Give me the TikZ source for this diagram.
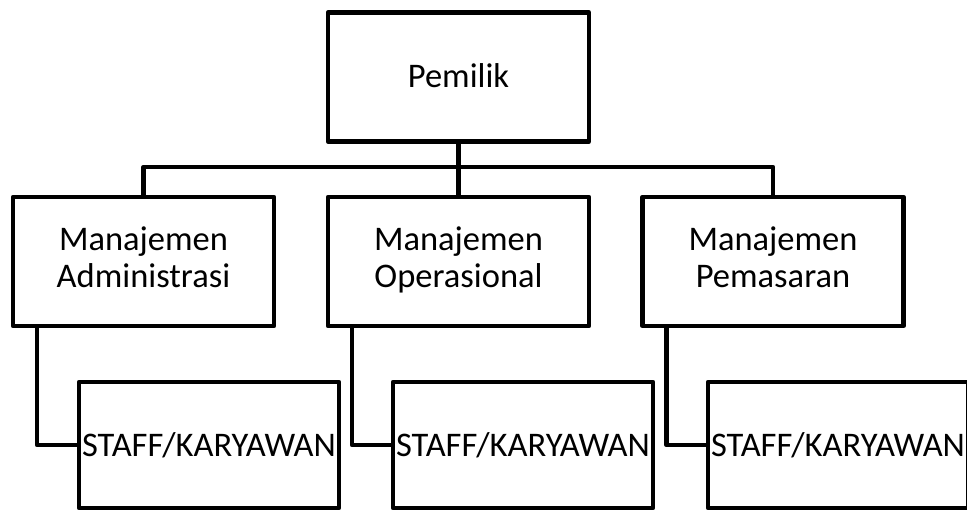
\documentclass[tikz,border=0pt]{standalone}
\usepackage{fontspec}
\setmainfont{Carlito}

\newcommand\boxstrut{\rule[-8pt]{0pt}{38pt}}

\begin{document}
\begin{tikzpicture}[x=1pt,y=-1pt,line width=4.3pt,line join=round]

      \useasboundingbox (0,0) rectangle (967,511);

      \begin{scope}[every node/.style={draw,rectangle,inner sep=0pt,align=center,
          minimum width=261pt,minimum height=129pt,font=\fontsize{34.5}{37}\selectfont,
          execute at begin node=\rule{0pt}{30pt},execute at end node=\boxstrut}]
        \node (pemilik) at (458.5,77)  {Pemilik};
        \node (adm)     at (143.5,261.5) {Manajemen\\Administrasi};
        \node (ops)     at (458.5,261.5) {Manajemen\\Operasional};
        \node (pmr)     at (773,261.5) {Manajemen\\Pemasaran};
      \end{scope}

      \begin{scope}[every node/.style={draw,rectangle,inner sep=0pt,
          minimum width=260pt,minimum height=126pt,font=\fontsize{34.5}{37}\selectfont}]
        \node (s1) at (209,445)   {STAFF/KARYAWAN};
        \node (s2) at (523,445)   {STAFF/KARYAWAN};
        \node (s3) at (838,445)   {STAFF/KARYAWAN};
      \end{scope}

      % pemilik ke manajemen
      \draw (pemilik.south) -- (ops.north);
      \draw (adm.north) -- ++(0,-28) -| (pmr.north);

      % manajemen ke staff
      \draw ([xshift=26pt]adm.south west) |- (s1.west);
      \draw ([xshift=26pt]ops.south west) |- (s2.west);
      \draw ([xshift=26pt]pmr.south west) |- (s3.west);

    \end{tikzpicture}
\end{document}
